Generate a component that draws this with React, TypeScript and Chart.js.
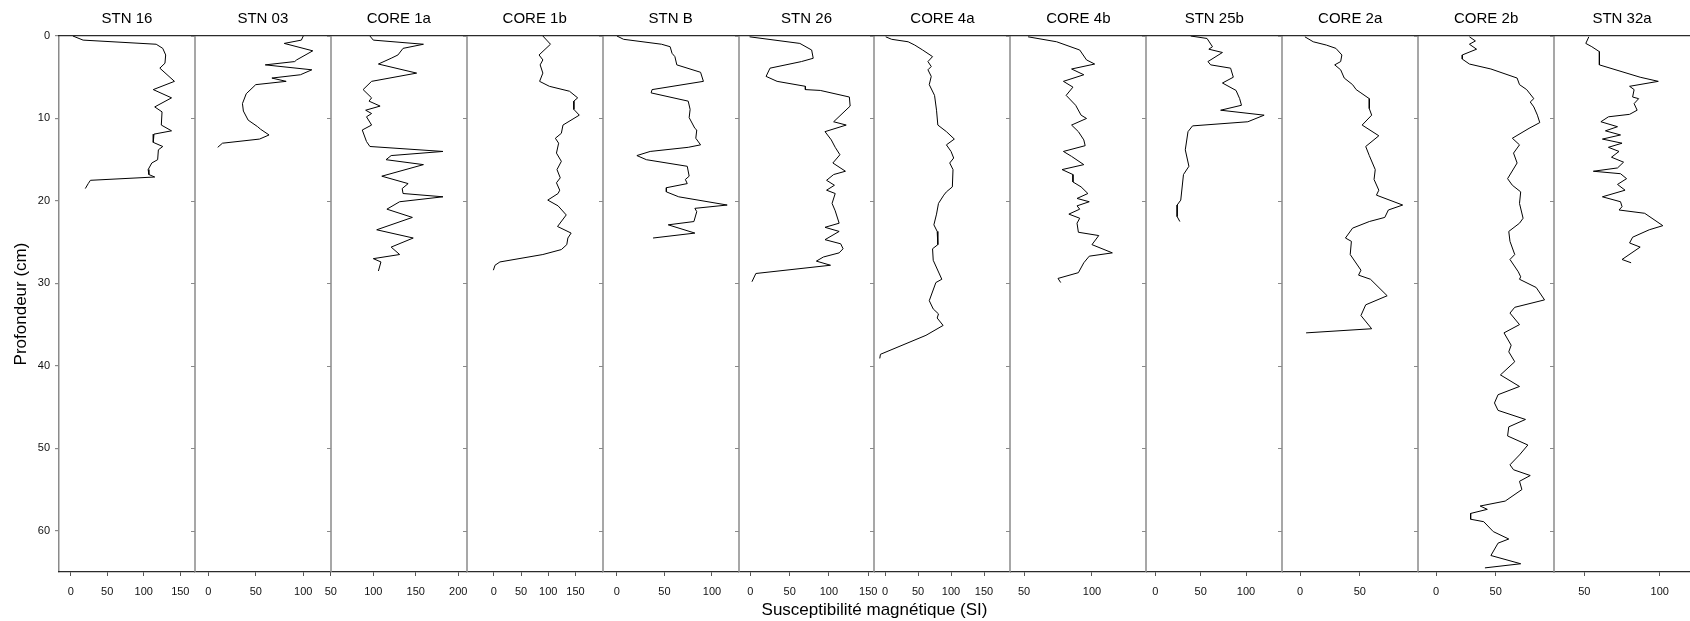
import React, { useEffect, useRef } from 'react';
import { Chart, registerables } from 'chart.js';

Chart.register(...registerables);

const FONT = "'Liberation Sans', Arial, Helvetica, sans-serif";
Chart.defaults.font.family = FONT;

// ---------- panels ----------
const PANEL_TITLES = ['STN 16', 'STN 03', 'CORE 1a', 'CORE 1b', 'STN B', 'STN 26', 'CORE 4a', 'CORE 4b', 'STN 25b', 'CORE 2a', 'CORE 2b', 'STN 32a'];
const X_MIN = [-16, -14, 50, -50, -15, -15, -16, 40, -10, -15, -15, 30];
const X_MAX = [170, 129, 210, 200, 128, 158, 190, 140, 140, 99, 99, 120];
const X_TICKS = [
  [0, 50, 100, 150],
  [0, 50, 100],
  [50, 100, 150, 200],
  [0, 50, 100, 150],
  [0, 50, 100],
  [0, 50, 100, 150],
  [0, 50, 100, 150],
  [50, 100],
  [0, 50, 100],
  [0, 50],
  [0, 50],
  [50, 100],
];
const Y_TICKS = [0, 10, 20, 30, 40, 50, 60];
const DEPTH_MIN = 0;
const DEPTH_MAX = 65;
const X_TITLE = 'Susceptibilité magnétique (SI)';
const Y_TITLE = 'Profondeur (cm)';

// ---------- data (depth in cm, susceptibility in SI) ----------
const STN16_DEPTH = [0, 0.5, 1.0, 1.5, 2.3, 3.3, 3.9, 5.5, 6.5, 7.5, 8.6, 9.2, 10.8, 11.5, 11.9, 12.9, 13.4, 13.8, 15.0, 15.4, 16.2, 16.8, 17.1, 17.5, 17.9, 18.5];
const STN16_VALUE = [3, 17, 117, 126, 130, 129, 122, 142, 113, 138, 115, 125, 124, 138, 114, 113, 126, 120, 119, 111, 106, 107, 115, 27, 24, 20];

const STN03_DEPTH = [0, 0.5, 0.9, 1.8, 2.9, 3.1, 3.5, 4.1, 4.7, 5.1, 5.5, 5.9, 7.0, 8.2, 9.1, 10.2, 11.0, 11.3, 12.0, 12.5, 13.0, 13.5];
const STN03_VALUE = [100, 98, 80, 110, 93, 91, 60, 109, 97, 67, 82, 50, 40, 36, 37, 42, 52, 55, 64, 54, 15, 10];

const CORE1A_DEPTH = [0, 0.5, 1.0, 1.5, 2.3, 2.7, 3.4, 4.5, 5.5, 6.5, 7.5, 7.9, 8.5, 9.0, 9.4, 9.8, 10.8, 11.4, 12.8, 13.4, 14.0, 14.5, 15.0, 15.6, 17.0, 17.9, 18.5, 19.1, 19.5, 20.1, 21.0, 22.0, 23.5, 24.5, 25.6, 26.5, 27.0, 27.4, 28.5];
const CORE1A_VALUE = [96, 100, 159, 135, 129, 121, 106, 151, 98, 88, 98, 95, 108, 91, 98, 92, 98, 87, 92, 96, 182, 121, 115, 159, 110, 141, 134, 135, 182, 131, 116, 146, 104, 147, 121, 131, 100, 109, 106];

const CORE1B_DEPTH = [0, 1.0, 2.3, 2.9, 3.5, 4.5, 5.5, 6.1, 6.7, 7.5, 7.9, 8.9, 9.6, 10.8, 11.8, 12.4, 13.0, 14.2, 15.2, 16.2, 17.2, 17.8, 18.7, 19.1, 19.9, 20.6, 21.7, 23.1, 23.9, 24.5, 25.3, 25.9, 26.5, 27.4, 27.8, 28.4];
const CORE1B_VALUE = [90, 104, 83, 90, 85, 90, 84, 102, 139, 154, 147, 147, 157, 127, 124, 113, 119, 115, 124, 116, 122, 115, 121, 118, 99, 118, 133, 117, 142, 136, 134, 124, 90, 11, 2, -1];

const STNB_DEPTH = [0, 0.4, 1.0, 1.3, 2.1, 2.5, 3.5, 4.4, 5.5, 6.5, 6.9, 7.9, 8.9, 9.9, 11.2, 11.4, 12.4, 13.2, 13.5, 14.0, 14.5, 15.0, 15.8, 17.0, 17.4, 17.9, 18.4, 18.9, 19.5, 20.5, 20.9, 21.3, 22.5, 22.9, 23.9, 24.5];
const STNB_VALUE = [0, 7, 47, 56, 58, 61, 63, 88, 91, 37, 36, 75, 77, 76, 82, 84, 83, 88, 75, 35, 21, 31, 74, 76, 72, 74, 52, 52, 65, 116, 82, 84, 81, 54, 82, 38];

const STN26_DEPTH = [0.1, 0.9, 1.7, 2.7, 3.1, 3.9, 4.9, 5.5, 6.1, 6.5, 6.6, 7.4, 8.5, 10.4, 10.8, 11.6, 12.6, 13.5, 14.4, 15.4, 16.4, 16.8, 17.5, 18.1, 18.7, 19.1, 20.3, 21.2, 22.7, 23.2, 23.7, 24.7, 25.2, 25.8, 26.3, 26.8, 27.3, 27.8, 28.8, 29.8];
const STN26_VALUE = [-1, 63, 78, 80, 65, 25, 20, 34, 70, 70, 89, 126, 127, 106, 122, 95, 103, 108, 114, 105, 121, 106, 97, 107, 97, 108, 104, 108, 113, 95, 113, 95, 115, 118, 113, 93, 84, 102, 7, 2];

const CORE4A_DEPTH = [0.1, 0.4, 0.7, 1.1, 1.7, 2.5, 3.1, 3.7, 4.1, 4.9, 5.9, 7.2, 9.0, 10.8, 11.6, 12.5, 13.2, 14.0, 14.8, 15.4, 16.2, 18.3, 18.9, 19.3, 20.3, 21.6, 22.9, 23.7, 25.3, 25.8, 27.2, 29.5, 29.9, 32.1, 33.1, 33.7, 34.2, 35.1, 36.3, 38.6, 39.1];
const CORE4A_VALUE = [1, 10, 35, 45, 57, 72, 65, 70, 65, 70, 67, 75, 78, 80, 93, 105, 93, 100, 104, 98, 103, 102, 93, 89, 81, 78, 74, 79, 80, 72, 73, 86, 77, 67, 73, 81, 79, 88, 62, -7, -8];

const CORE4B_DEPTH = [0.1, 0.7, 1.7, 2.9, 3.4, 4.0, 4.7, 5.5, 6.2, 7.2, 8.4, 9.6, 10.0, 10.8, 11.6, 12.6, 13.3, 14.0, 14.6, 15.6, 16.2, 16.8, 17.7, 18.3, 19.1, 19.7, 20.1, 20.6, 21.0, 21.6, 22.1, 22.7, 23.8, 24.2, 25.3, 26.3, 26.7, 27.5, 28.7, 29.4, 29.9];
const CORE4B_VALUE = [53, 74, 91, 96, 102, 85, 94, 79, 86, 81, 88, 92, 96, 85, 90, 94, 95, 79, 85, 94, 78, 86, 86, 92, 97, 89, 98, 89, 91, 83, 91, 89, 90, 105, 100, 115, 98, 94, 90, 75, 77];

const STN25B_DEPTH = [0, 0.3, 1.3, 1.6, 2.0, 3.1, 3.5, 3.9, 5.0, 5.7, 6.6, 7.6, 8.4, 9.0, 9.6, 10.4, 10.9, 11.6, 13.8, 15.8, 16.8, 19.9, 20.5, 21.9, 22.5];
const STN25B_VALUE = [39, 57, 63, 59, 74, 58, 61, 83, 86, 74, 89, 93, 95, 72, 120, 102, 41, 36, 33, 37, 31, 28, 24, 24, 27];

const CORE2A_DEPTH = [0.1, 0.7, 1.1, 1.5, 2.3, 3.1, 3.5, 4.1, 5.1, 5.9, 6.5, 6.9, 7.6, 8.8, 9.6, 10.8, 12.1, 13.4, 14.5, 16.2, 17.4, 18.7, 19.3, 20.5, 21.1, 22.0, 22.5, 23.3, 24.5, 24.9, 26.5, 28.4, 29.0, 29.5, 31.5, 32.6, 33.9, 35.5, 36.0];
const CORE2A_VALUE = [4, 11, 22, 30, 35, 34, 29, 34, 37, 44, 47, 51, 58, 58, 60, 52, 66, 55, 58, 63, 62, 66, 64, 86, 74, 71, 58, 44, 38, 43, 42, 51, 49, 59, 73, 55, 51, 60, 5];

const CORE2B_DEPTH = [0.1, 0.6, 1.0, 1.6, 2.3, 2.8, 3.4, 4.0, 5.1, 5.9, 6.5, 7.6, 8.0, 8.6, 9.6, 10.5, 11.2, 12.4, 13.2, 14.2, 15.4, 17.3, 18.1, 18.9, 20.3, 22.1, 22.7, 23.7, 24.9, 26.5, 27.1, 28.6, 29.2, 29.5, 30.5, 32.0, 32.9, 33.6, 35.0, 36.0, 37.5, 38.3, 39.5, 41.1, 42.5, 43.5, 44.5, 45.4, 46.5, 47.4, 48.5, 49.6, 50.8, 52.0, 52.6, 53.3, 54.0, 55.0, 56.4, 57.0, 57.4, 57.9, 58.6, 58.9, 60.1, 61.0, 61.5, 63.0, 64.0, 64.5];
const CORE2B_VALUE = [28, 33, 28, 34, 22, 22, 28, 46, 68, 70, 76, 82, 79, 82, 85, 87, 78, 64, 70, 65, 68, 60, 64, 71, 70, 73, 70, 61, 62, 66, 62, 69, 71, 70, 84, 91, 66, 62, 70, 57, 63, 61, 66, 54, 70, 52, 49, 52, 75, 61, 60, 77, 70, 62, 65, 79, 70, 72, 58, 37, 43, 29, 29, 40, 48, 61, 52, 46, 71, 41];

const STN32A_DEPTH = [0.1, 0.9, 1.3, 1.9, 3.5, 5.0, 5.5, 6.1, 6.5, 7.4, 7.6, 8.2, 9.0, 9.5, 9.8, 10.4, 11.0, 11.5, 12.0, 12.5, 13.0, 13.5, 14.0, 14.7, 15.3, 16.0, 16.4, 16.7, 17.3, 18.0, 18.7, 19.5, 20.1, 20.7, 21.1, 21.5, 23.0, 23.5, 24.4, 25.1, 25.6, 27.1, 27.5];
const STN32A_VALUE = [53, 51, 55, 60, 60, 87, 99, 80, 83, 82, 86, 83, 85, 80, 66, 61, 72, 64, 74, 62, 75, 66, 73, 68, 76, 72, 56, 74, 78, 72, 77, 62, 74, 75, 73, 90, 102, 93, 82, 80, 87, 75, 81];

const SERIES_DEPTHS = [STN16_DEPTH, STN03_DEPTH, CORE1A_DEPTH, CORE1B_DEPTH, STNB_DEPTH, STN26_DEPTH, CORE4A_DEPTH, CORE4B_DEPTH, STN25B_DEPTH, CORE2A_DEPTH, CORE2B_DEPTH, STN32A_DEPTH];
const SERIES_VALUES = [STN16_VALUE, STN03_VALUE, CORE1A_VALUE, CORE1B_VALUE, STNB_VALUE, STN26_VALUE, CORE4A_VALUE, CORE4B_VALUE, STN25B_VALUE, CORE2A_VALUE, CORE2B_VALUE, STN32A_VALUE];

// ---------- styling ----------
const W = 1690;
const H = 621;
const SEP_COLOR = '#8a8a8a';
const AXIS_COLOR = '#2b2b2b';

// draws the grey panel separators with their depth tick marks
const separatorPlugin = {
  id: 'panelSeparators',
  beforeDatasetsDraw(chart: any) {
    const { ctx, chartArea, scales } = chart;
    const yScale = scales.y;
    ctx.save();
    ctx.strokeStyle = SEP_COLOR;
    for (let i = 1; i < PANEL_TITLES.length; i++) {
      const s = scales['x' + i];
      if (!s) continue;
      const x = Math.round(s.left);
      ctx.lineWidth = 1.5;
      ctx.beginPath();
      ctx.moveTo(x, chartArea.top);
      ctx.lineTo(x, chartArea.bottom);
      ctx.stroke();
      ctx.lineWidth = 1.2;
      ctx.beginPath();
      for (const v of Y_TICKS) {
        const py = Math.round(yScale.getPixelForValue(v)) + 0.5;
        ctx.moveTo(x - 4, py);
        ctx.lineTo(x, py);
      }
      ctx.stroke();
    }
    ctx.restore();
  },
};

export default function App() {
  const canvasRef = useRef<HTMLCanvasElement | null>(null);

  useEffect(() => {
    const canvas = canvasRef.current;
    if (!canvas) return;

    const datasets = SERIES_DEPTHS.map((depths, i) => ({
      label: PANEL_TITLES[i],
      data: depths.map((d, k) => ({ x: SERIES_VALUES[i][k], y: d })),
      xAxisID: 'x' + i,
      yAxisID: 'y',
      showLine: true,
      pointRadius: 0,
      pointHoverRadius: 0,
      borderColor: '#000000',
      borderWidth: 1,
      fill: false,
      tension: 0,
    }));

    const scales: any = {
      y: {
        type: 'linear',
        position: 'left',
        min: DEPTH_MIN,
        max: DEPTH_MAX,
        reverse: true,
        afterBuildTicks: (s: any) => {
          s.ticks = Y_TICKS.map((v) => ({ value: v }));
        },
        ticks: { font: { family: FONT, size: 11 }, color: '#111', padding: 5 },
        grid: { display: true, drawOnChartArea: false, drawTicks: true, tickLength: 4, color: SEP_COLOR, lineWidth: 1.2 },
        border: { display: true, color: SEP_COLOR, width: 1.5 },
        title: { display: true, text: Y_TITLE, font: { family: FONT, size: 17 }, color: '#000', padding: { top: 11, bottom: 0 } },
        afterFit: (s: any) => {
          s.width = 59;
          s.paddingTop = 0;
          s.paddingBottom = 0;
        },
      },
    };

    // bottom value axes, one per panel, side by side (same stack)
    PANEL_TITLES.forEach((_title, i) => {
      scales['x' + i] = {
        type: 'linear',
        axis: 'x',
        position: 'bottom',
        stack: 'panels',
        stackWeight: 1,
        min: X_MIN[i],
        max: X_MAX[i],
        afterBuildTicks: (s: any) => {
          s.ticks = X_TICKS[i].map((v) => ({ value: v }));
        },
        ticks: { font: { family: FONT, size: 11 }, color: '#111', padding: 9, maxRotation: 0, autoSkip: false },
        grid: { display: true, drawOnChartArea: false, drawTicks: true, tickLength: 4, color: '#555', lineWidth: 1 },
        border: { display: true, color: AXIS_COLOR, width: 1.3 },
        afterFit: (s: any) => {
          s.height = 26;
          s.paddingLeft = 0;
          s.paddingRight = 0;
        },
      };
    });

    // top title axes: the layout places top boxes in reverse order, so define them last-to-first
    for (let i = PANEL_TITLES.length - 1; i >= 0; i--) {
      scales['t' + i] = {
        type: 'linear',
        axis: 'x',
        position: 'top',
        stack: 'titles',
        stackWeight: 1,
        min: X_MIN[i],
        max: X_MAX[i],
        ticks: { display: false },
        grid: { display: false, drawTicks: false },
        border: { display: true, color: AXIS_COLOR, width: 1.3 },
        title: { display: true, text: PANEL_TITLES[i], font: { family: FONT, size: 15 }, color: '#000', padding: { top: 10, bottom: 8 } },
        afterFit: (s: any) => {
          s.height = 36;
          s.paddingLeft = 0;
          s.paddingRight = 0;
        },
      };
    }

    scales.xTitle = {
      type: 'linear',
      axis: 'x',
      position: 'bottom',
      weight: 10,
      min: 0,
      max: 1,
      ticks: { display: false },
      grid: { display: false, drawTicks: false },
      border: { display: false },
      title: { display: true, text: X_TITLE, font: { family: FONT, size: 17 }, color: '#000', padding: { top: 0, bottom: 0 } },
      afterFit: (s: any) => {
        s.height = 23;
        s.paddingLeft = 0;
        s.paddingRight = 0;
      },
    };

    const chart = new Chart(canvas, {
      type: 'scatter',
      data: { datasets: datasets as any },
      options: {
        responsive: false,
        animation: false,
        devicePixelRatio: 1,
        layout: { padding: 0 },
        plugins: {
          legend: { display: false },
          tooltip: { enabled: false },
        },
        events: [],
        scales,
      } as any,
      plugins: [separatorPlugin],
    });

    return () => {
      chart.destroy();
    };
  }, []);

  return (
    <div style={{ position: 'absolute', left: 0, top: 0, width: W, height: H, background: '#ffffff' }}>
      <canvas ref={canvasRef} width={W} height={H} style={{ display: 'block', width: W, height: H }} />
    </div>
  );
}
